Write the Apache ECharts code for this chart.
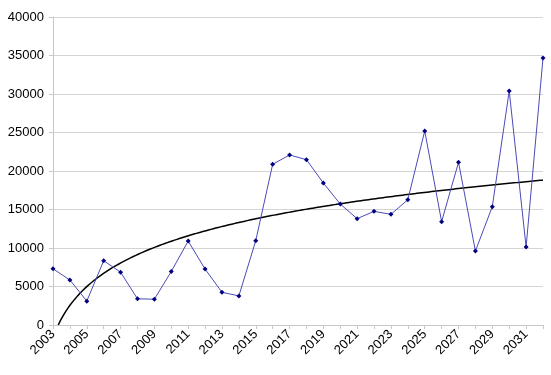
<!DOCTYPE html>
<html><head><meta charset="utf-8">
<script src="https://cdn.jsdelivr.net/npm/echarts@6/dist/echarts.min.js"></script>
<style>html,body{margin:0;padding:0;background:#fff}#c{width:551px;height:375px}</style>
</head><body><div id="c"></div>
<script>
const years = ["2003","2004","2005","2006","2007","2008","2009","2010","2011","2012","2013","2014","2015","2016","2017","2018","2019","2020","2021","2022","2023","2024","2025","2026","2027","2028","2029","2030","2031","2032"];
const values = [7300,5850,3100,8350,6850,3400,3350,6950,10900,7270,4250,3780,10950,20870,22080,21470,18440,15710,13810,14760,14370,16270,25200,13420,21130,9610,15370,30390,10130,34680];
const yTicks = {min:0, max:40000, interval:5000};

// logarithmic trend line fitted by least squares from the data
const n = values.length;
let sx=0, sy=0, sxx=0, sxy=0;
for (let i=0;i<n;i++){ const lx=Math.log(i+1); sx+=lx; sy+=values[i]; sxx+=lx*lx; sxy+=lx*values[i]; }
const a = (n*sxy - sx*sy)/(n*sxx - sx*sx);
const b = (sy - a*sx)/n;
const x0 = Math.exp(-b/a);
const trend = [];
for (let k=0;k<=200;k++){ const x = x0 + (n - x0)*k/200; trend.push([x-1, a*Math.log(x)+b]); }

const chart = echarts.init(document.getElementById('c'));
chart.setOption({
  animation:false,
  grid:{left:53,right:8,top:17,bottom:50},
  xAxis:[{
    type:'category', data:years, boundaryGap:false,
    axisLine:{lineStyle:{color:'#c8c8c8'}},
    axisTick:{show:true, interval:0, length:4, lineStyle:{color:'#c8c8c8'}},
    axisLabel:{interval:1, rotate:45, color:'#000', fontFamily:'Liberation Sans, Arial', fontSize:13, margin:7}
  },{
    type:'value', min:0, max:n-1, show:false
  }],
  yAxis:{
    type:'value', min:yTicks.min, max:yTicks.max, interval:yTicks.interval,
    axisLine:{show:true, lineStyle:{color:'#c8c8c8'}},
    axisTick:{show:true, length:4, lineStyle:{color:'#c8c8c8'}},
    splitLine:{lineStyle:{color:'#d4d4d4'}},
    axisLabel:{color:'#000', fontFamily:'Liberation Sans, Arial', fontSize:13, margin:9, formatter:v=>String(v)}
  },
  series:[{
    type:'line', data:values, xAxisIndex:0,
    symbol:'diamond', symbolSize:5,
    lineStyle:{color:'#4a4ab8', width:1},
    itemStyle:{color:'#000080'}
  },{
    type:'line', data:trend, xAxisIndex:1, showSymbol:false,
    lineStyle:{color:'#000', width:1.5}, z:1
  }]
});
</script></body></html>
